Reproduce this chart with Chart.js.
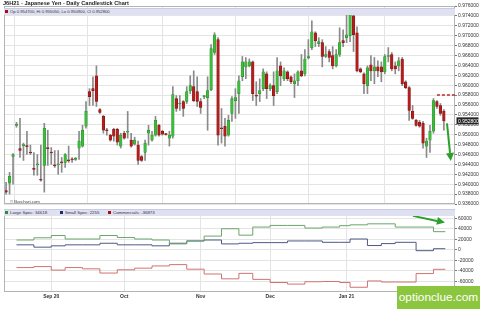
<!DOCTYPE html>
<html><head><meta charset="utf-8">
<script src="https://cdn.jsdelivr.net/npm/chart.js@4.4.0/dist/chart.umd.min.js"></script>
<style>
html,body{margin:0;padding:0;background:#fff;}
#wrap{position:relative;width:480px;height:309px;overflow:hidden;font-family:"Liberation Sans",Arial,sans-serif;}
canvas{position:absolute;left:0;}
#c1{top:0;}
#c2{top:208px;}
.t{position:absolute;white-space:nowrap;color:#222;line-height:1;}
.band{position:absolute;left:4px;width:451px;height:6.5px;background:#dfe1f3;border-top:1px solid #c9cbe6;}
.sq{position:absolute;width:3px;height:3px;}
#wm{position:absolute;left:397px;top:286px;width:83px;height:23px;background:#8cc63f;color:#fff;font:11.8px "Liberation Sans",Arial,sans-serif;line-height:23px;text-align:center;}
</style></head>
<body>
<div id="wrap">
<canvas id="c1" width="480" height="208"></canvas>
<canvas id="c2" width="480" height="101"></canvas>
<div class="t" style="left:3px;top:0.5px;font-weight:bold;font-size:5.6px;">J6H21 - Japanese Yen - Daily Candlestick Chart</div>
<div class="band" style="top:7.5px;"></div>
<div class="sq" style="left:5px;top:10px;background:#a01010;"></div>
<div class="t" style="left:10px;top:9.6px;font-size:4.2px;color:#333;">Op 0.954700, Hi 0.955050, Lo 0.950900, Cl 0.952800</div>
<div class="t" style="left:10px;top:199.5px;font-size:4.3px;color:#444;">© Barchart.com</div>
<div class="band" style="top:208.5px;"></div>
<div class="sq" style="left:5px;top:211px;background:#2f8f2f;"></div>
<div class="t" style="left:10px;top:210.6px;font-size:4.4px;color:#333;">Large Spec: 34618</div>
<div class="sq" style="left:60px;top:211px;background:#1c2a6c;"></div>
<div class="t" style="left:65px;top:210.6px;font-size:4.4px;color:#333;">Small Spec: 2255</div>
<div class="sq" style="left:108px;top:211px;background:#a01010;"></div>
<div class="t" style="left:113px;top:210.6px;font-size:4.4px;color:#333;">Commercials: -36873</div>
<div id="wm">optionclue.com</div>
</div>
<script>
// ---- price data (daily candles, oldest first) ----
const open = [
.9387,.9402,.9456,.9519,.9472,.9478,.9478,.9465,.9432,.9439,
.9410,.9438,.9474,.9465,.9439,.9439,.9445,.9444,.9449,.9451,
.9450,.9473,.9477,.9517,.9587,.9593,.9619,.9551,.9537,.9510,
.9499,.9511,.9511,.9477,.9503,.9505,.9489,.9481,.9479,.9456,
.9464,.9503,.9489,.9499,.9519,.9507,.9502,.9493,.9497,.9573,
.9562,.9567,.9567,.9589,.9597,.9587,.9567,.9577,.9575,.9591,
.9666,.9692,.9514,.9517,.9499,.9543,.9569,.9583,.9617,.9637,
.9639,.9647,.9580,.9583,.9593,.9623,.9593,.9599,.9587,.9639,
.9613,.9627,.9617,.9603,.9609,.9629,.9623,.9655,.9676,.9706,
.9684,.9686,.9658,.9668,.9660,.9639,.9662,.9690,.9696,.9700,
.9740,.9706,.9633,.9623,.9599,.9641,.9629,.9637,.9637,.9627,
.9658,.9662,.9639,.9639,.9653,.9607,.9595,.9547,.9529,.9525,
.9523,.9477,.9489,.9507,.9567,.9559,.9547];
const high = [
.9404,.9424,.9462,.9525,.9533,.9483,.9507,.9479,.9464,.9460,
.9479,.9523,.9509,.9474,.9468,.9468,.9454,.9462,.9477,.9454,
.9454,.9507,.9519,.9567,.9593,.9617,.9639,.9553,.9539,.9513,
.9501,.9513,.9513,.9503,.9507,.9547,.9503,.9495,.9487,.9458,
.9489,.9519,.9507,.9537,.9521,.9509,.9503,.9507,.9597,.9579,
.9579,.9569,.9597,.9619,.9629,.9617,.9573,.9579,.9617,.9682,
.9706,.9696,.9553,.9533,.9539,.9577,.9593,.9619,.9658,.9656,
.9653,.9649,.9607,.9613,.9633,.9627,.9603,.9627,.9656,.9647,
.9635,.9629,.9619,.9623,.9629,.9662,.9672,.9692,.9730,.9708,
.9696,.9692,.9678,.9672,.9678,.9672,.9716,.9712,.9742,.9746,
.9742,.9718,.9635,.9625,.9639,.9660,.9656,.9649,.9647,.9662,
.9676,.9666,.9647,.9656,.9656,.9609,.9597,.9559,.9531,.9529,
.9527,.9493,.9519,.9573,.9569,.9563,.95505];
const low = [
.9380,.9380,.9400,.9515,.9454,.9448,.9460,.9460,.9418,.9418,
.9406,.9384,.9438,.9440,.9434,.9420,.9424,.9434,.9444,.9444,
.9448,.9450,.9475,.9513,.9559,.9559,.9557,.9543,.9503,.9499,
.9487,.9487,.9479,.9473,.9491,.9493,.9475,.9479,.9440,.9446,
.9448,.9479,.9487,.9497,.9497,.9499,.9499,.9477,.9493,.9547,
.9549,.9537,.9563,.9583,.9567,.9557,.9543,.9573,.9509,.9589,
.9662,.9479,.9483,.9477,.9497,.9527,.9533,.9543,.9609,.9613,
.9637,.9569,.9559,.9567,.9589,.9573,.9589,.9559,.9583,.9599,
.9609,.9609,.9603,.9575,.9599,.9617,.9619,.9653,.9672,.9678,
.9678,.9637,.9656,.9647,.9633,.9637,.9658,.9678,.9686,.9688,
.9668,.9627,.9625,.9583,.9583,.9609,.9603,.9617,.9607,.9623,
.9647,.9629,.9623,.9629,.9599,.9593,.9529,.9531,.9517,.9515,
.9473,.9454,.9464,.9503,.9553,.9539,.9509];
const close = [
.9384,.9416,.9460,.9521,.9468,.9480,.9476,.9463,.9430,.9441,
.9408,.9513,.9472,.9463,.9437,.9441,.9443,.9460,.9447,.9449,
.9451,.9487,.9509,.9547,.9577,.9589,.9567,.9545,.9509,.9508,
.9489,.9497,.9485,.9499,.9493,.9507,.9477,.9489,.9448,.9448,
.9483,.9509,.9499,.9529,.9499,.9501,.9500,.9499,.9581,.9553,
.9564,.9553,.9587,.9599,.9569,.9567,.9555,.9577,.9589,.9674,
.9702,.9499,.9512,.9497,.9529,.9573,.9575,.9609,.9647,.9647,
.9647,.9583,.9578,.9589,.9627,.9593,.9599,.9579,.9629,.9619,
.9629,.9613,.9607,.9609,.9627,.9619,.9653,.9658,.9708,.9690,
.9688,.9658,.9662,.9656,.9639,.9662,.9686,.9686,.9702,.9744,
.9702,.9629,.9627,.9603,.9635,.9629,.9637,.9629,.9627,.9658,
.9660,.9633,.9633,.9649,.9603,.9595,.9549,.9533,.9519,.9517,
.9483,.9487,.9507,.9569,.9557,.9543,.9528];

// ---- axes ----
const monthIdx = [13, 34, 56, 76, 98];
const monthLabels = ['Sep 20', 'Oct', 'Nov', 'Dec', 'Jan 21'];
const priceTickLabels = ['0.976000','0.974000','0.972000','0.970000','0.968000','0.966000','0.964000','0.962000','0.960000','0.958000','0.956000','0.954000','0.952000','0.950000','0.948000','0.946000','0.944000','0.942000','0.940000','0.938000','0.936000'];
const cotTickLabels = ['60000','40000','20000','0','-20000','-40000','-60000'];

// ---- COT (weekly, step starts at day index) ----
const cotIdx = [3,8,13,17,22,27,32,37,42,47,52,57,62,67,71,76,81,86,91,96,99,104,108,112,118,123,126.4];
const largeSpec   = [18800,23000,27300,20700,20700,27300,23600,20700,18800,11400,17000,26200,40200,28000,43400,46500,46500,41500,43400,46000,47600,49500,49500,43400,43400,34618];
const smallSpec   = [9600,5200,7700,9600,9600,12600,9600,9600,7700,12600,17000,18800,11400,12600,13800,13800,17000,17000,14400,14400,20700,8300,12000,14400,-1500,2255];
const commercials = [-33600,-31700,-38400,-33600,-36000,-44000,-37800,-34700,-30500,-28000,-36600,-45800,-55000,-44600,-56000,-62000,-65000,-60500,-60000,-62000,-71000,-59000,-61000,-61000,-45000,-36873];

// ---- annotations ----
const lastClose = 0.9528;
const targetLevel = 0.958;
const targetFromIdx = 124;
const arrowUpper = [126.9, 0.9523, 128.0, 0.9447];
const arrowLower = [117.1, 64600, 126.3, 52000];

Chart.defaults.font.family = '"Liberation Sans", Arial, sans-serif';
const X_MIN = -0.6, X_MAX = 129.2;
const GRID = '#e4e4e4';

function drawArrow(ctx, x1, y1, x2, y2, color) {
  const ang = Math.atan2(y2 - y1, x2 - x1);
  const hl = 8, hw = 4;
  const bx = x2 - hl * Math.cos(ang), by = y2 - hl * Math.sin(ang);
  ctx.strokeStyle = color; ctx.fillStyle = color; ctx.lineWidth = 2;
  ctx.beginPath(); ctx.moveTo(x1, y1); ctx.lineTo(bx, by); ctx.stroke();
  ctx.beginPath();
  ctx.moveTo(x2, y2);
  ctx.lineTo(bx + hw * Math.sin(ang), by - hw * Math.cos(ang));
  ctx.lineTo(bx - hw * Math.sin(ang), by + hw * Math.cos(ang));
  ctx.closePath(); ctx.fill();
}

const frame = {
  id: 'frame',
  afterDraw(chart) {
    const {ctx, chartArea: a} = chart;
    ctx.save();
    ctx.strokeStyle = '#b4b4b4'; ctx.lineWidth = 1;
    ctx.strokeRect(a.left + 0.5, a.top + 0.5, a.right - a.left - 1, a.bottom - a.top - 1);
    ctx.restore();
  }
};

const upperAnnot = {
  id: 'upperAnnot',
  afterDraw(chart) {
    const {ctx, scales: {x, y}, chartArea: a} = chart;
    ctx.save();
    const ty = y.getPixelForValue(targetLevel);
    ctx.strokeStyle = '#c0282d'; ctx.lineWidth = 1.5; ctx.setLineDash([3, 2]);
    ctx.beginPath(); ctx.moveTo(x.getPixelForValue(targetFromIdx), ty); ctx.lineTo(a.right, ty); ctx.stroke();
    ctx.setLineDash([]);
    drawArrow(ctx, x.getPixelForValue(arrowUpper[0]), y.getPixelForValue(arrowUpper[1]),
              x.getPixelForValue(arrowUpper[2]), y.getPixelForValue(arrowUpper[3]), '#2aa02a');
    const py = y.getPixelForValue(lastClose);
    ctx.fillStyle = '#262626';
    ctx.fillRect(a.right + 1.5, py - 3.5, 22, 7);
    ctx.fillStyle = '#fff'; ctx.font = '5px "Liberation Sans", Arial, sans-serif';
    ctx.textBaseline = 'middle'; ctx.textAlign = 'left';
    ctx.fillText(lastClose.toFixed(6), a.right + 3, py + 0.3);
    ctx.restore();
  }
};

const lowerAnnot = {
  id: 'lowerAnnot',
  afterDraw(chart) {
    const {ctx, scales: {x, y}} = chart;
    ctx.save();
    drawArrow(ctx, x.getPixelForValue(arrowLower[0]), y.getPixelForValue(arrowLower[1]),
              x.getPixelForValue(arrowLower[2]), y.getPixelForValue(arrowLower[3]), '#2aa02a');
    ctx.restore();
  }
};

const isUp = i => close[i] >= open[i];
const bodies = open.map((o, i) => ({x: i, y: [o, close[i]]}));
const wicks = high.map((h, i) => ({x: i, y: [low[i], h]}));

new Chart(document.getElementById('c1'), {
  type: 'bar',
  data: {datasets: [
    {data: bodies, grouped: false, barThickness: 2.6, minBarLength: 1, order: 1,
     backgroundColor: c => isUp(c.dataIndex) ? '#3dbb3d' : '#b51d1d',
     borderColor: c => isUp(c.dataIndex) ? '#2a8a2a' : '#7d1212', borderWidth: 0.5, borderSkipped: false},
    {data: wicks, grouped: false, barThickness: 1, order: 2, backgroundColor: '#8a8a8a'}
  ]},
  options: {
    responsive: false, animation: false,
    layout: {padding: {left: 4, top: 6, right: 0, bottom: 1}},
    plugins: {legend: {display: false}, tooltip: {enabled: false}},
    scales: {
      x: {type: 'linear', min: X_MIN, max: X_MAX, offset: false,
          grid: {color: GRID, drawTicks: false}, border: {display: false},
          ticks: {display: false},
          afterBuildTicks: s => { s.ticks = monthIdx.map(v => ({value: v})); },
          afterFit: s => { s.height = 0; }},
      y: {position: 'right', min: 0.936, max: 0.976,
          afterBuildTicks: s => { s.ticks = priceTickLabels.map(v => ({value: parseFloat(v)})); },
          ticks: {callback: (v, i) => priceTickLabels[i], font: {size: 5}, color: '#333', padding: 1},
          grid: {color: GRID, tickLength: 2, tickColor: '#777'}, border: {display: false},
          afterFit: s => { s.width = 25; }}
    }
  },
  plugins: [frame, upperAnnot]
});

const mk = vals => cotIdx.map((ix, i) => ({x: ix, y: vals[Math.min(i, vals.length - 1)]}));

new Chart(document.getElementById('c2'), {
  type: 'line',
  data: {datasets: [
    {data: mk(largeSpec), borderColor: '#6aa66a', borderWidth: 1, stepped: true, pointRadius: 0},
    {data: mk(smallSpec), borderColor: '#4c5a86', borderWidth: 1, stepped: true, pointRadius: 0},
    {data: mk(commercials), borderColor: '#d07272', borderWidth: 1, stepped: true, pointRadius: 0}
  ]},
  options: {
    responsive: false, animation: false,
    layout: {padding: {left: 4, top: 0.5, right: 0, bottom: 0}},
    plugins: {legend: {display: false}, tooltip: {enabled: false}},
    scales: {
      x: {type: 'linear', min: X_MIN, max: X_MAX,
          grid: {color: GRID, drawTicks: false}, border: {display: false},
          afterBuildTicks: s => { s.ticks = monthIdx.map(v => ({value: v})); },
          ticks: {callback: (v, i) => monthLabels[i], font: {size: 5, weight: 'bold'}, color: '#333', padding: 2, maxRotation: 0, autoSkip: false},
          afterFit: s => { s.height = 17; }},
      y: {position: 'right', min: -80000, max: 72000,
          afterBuildTicks: s => { s.ticks = cotTickLabels.map(v => ({value: parseFloat(v)})); },
          ticks: {callback: (v, i) => cotTickLabels[i], font: {size: 5}, color: '#333', padding: 1},
          grid: {color: GRID, tickLength: 2, tickColor: '#777'}, border: {display: false},
          afterFit: s => { s.width = 25; }}
    }
  },
  plugins: [frame, lowerAnnot]
});
</script>
</body></html>
